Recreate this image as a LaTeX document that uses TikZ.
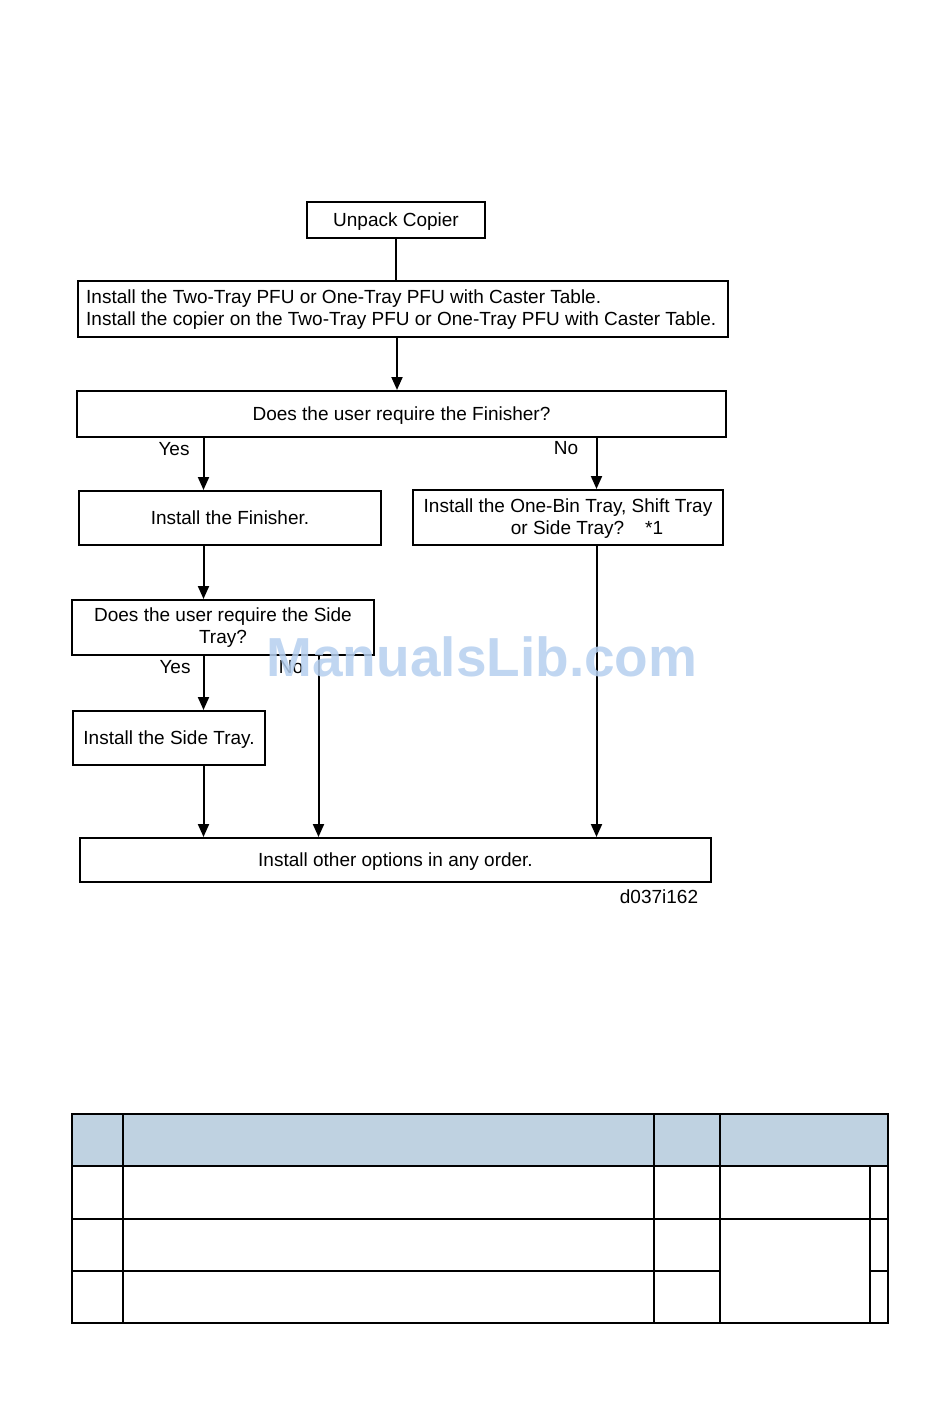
\documentclass[tikz,border=0pt]{standalone}
\usepackage{fontspec}
\setmainfont{Liberation Sans}
\usetikzlibrary{arrows.meta,calc}
\definecolor{hdr}{HTML}{BFD2E1}
\definecolor{wm}{HTML}{B5CFEF}
\tikzset{
  box/.style={draw=black,line width=2pt,inner sep=0pt,text depth=0pt,font=\fontsize{19}{22}\selectfont},
  lbl/.style={inner sep=0pt,text depth=0pt,font=\fontsize{19}{22}\selectfont},
  arr/.style={line width=2pt,-{Triangle[length=13pt,width=11pt]}},
  ln/.style={line width=2pt},
  tb/.style={line width=2pt},
}
\begin{document}
\begin{tikzpicture}[x=1pt,y=-1pt]
\useasboundingbox (0,0) rectangle (950,1420);
% flowchart boxes
\node[box,minimum width=178pt,minimum height=36pt] (unpack) at (396,220) {Unpack Copier};
\node[box,minimum width=650pt,minimum height=56pt] (pfu) at (403,309) {};
\node[lbl,anchor=west] (pfu1) at (86,297) {Install the Two-Tray PFU or One-Tray PFU with Caster Table.};
\node[lbl,anchor=west] (pfu2) at (86,319) {Install the copier on the Two-Tray PFU or One-Tray PFU with Caster Table.};
\node[box,minimum width=649pt,minimum height=46pt] (q1) at (401.5,414) {Does the user require the Finisher?};
\node[box,minimum width=302pt,minimum height=54pt] (fin) at (230,518) {Install the Finisher.};
\node[box,minimum width=310pt,minimum height=55pt] (onebin) at (568,517.5) {};
\node[lbl] (ob1) at (568,506) {Install the One-Bin Tray, Shift Tray};
\node[lbl] (ob2) at (587,528) {or Side Tray?\hspace{1.1em}*1};
\node[box,minimum width=302pt,minimum height=55pt] (q2) at (223,627.5) {};
\node[lbl] (q2a) at (223,615) {Does the user require the Side};
\node[lbl] (q2b) at (223,637) {Tray?};
\node[box,minimum width=192pt,minimum height=54pt] (side) at (169,738) {Install the Side Tray.};
\node[box,minimum width=631pt,minimum height=44pt] (other) at (395.5,860) {Install other options in any order.};
\node[lbl] (code) at (659,897) {d037i162};
% branch x positions
\coordinate (xa) at (203.5,0);
\coordinate (xb) at (596.5,0);
\coordinate (xc) at (318.5,0);
\coordinate (xd) at (397,0);
% connectors
\draw[ln] (unpack.south) -- (unpack.south |- pfu.north);
\draw[arr] (pfu.south -| xd) -- (q1.north -| xd);
\draw[arr] (q1.south -| xa) -- (fin.north -| xa);
\draw[arr] (q1.south -| xb) -- (onebin.north -| xb);
\draw[arr] (fin.south -| xa) -- (q2.north -| xa);
\draw[arr] (q2.south -| xa) -- (side.north -| xa);
\draw[arr] (q2.south -| xc) -- (other.north -| xc);
\draw[arr] (side.south -| xa) -- (other.north -| xa);
\draw[arr] (onebin.south -| xb) -- (other.north -| xb);
\node[lbl] (yes1) at (174,449) {Yes};
\node[lbl] (no1) at (566,448) {No};
\node[lbl] (yes2) at (175,667) {Yes};
\node[lbl] (no2) at (291,667) {No};
% watermark
\node[inner sep=0pt,text=wm,opacity=0.85,font=\fontsize{55}{55}\selectfont\bfseries] (wmark) at (482,657) {ManualsLib.com};
% table
\fill[hdr] (72,1114) rectangle (888,1166);
\draw[tb] (72,1114) rectangle (888,1323);
\draw[tb] (72,1166) -- (888,1166);
\draw[tb] (72,1219) -- (888,1219);
\draw[tb] (72,1271) -- (720,1271);
\draw[tb] (870,1271) -- (888,1271);
\draw[tb] (123,1114) -- (123,1323);
\draw[tb] (654,1114) -- (654,1323);
\draw[tb] (720,1114) -- (720,1323);
\draw[tb] (870,1166) -- (870,1323);
\end{tikzpicture}
\end{document}
